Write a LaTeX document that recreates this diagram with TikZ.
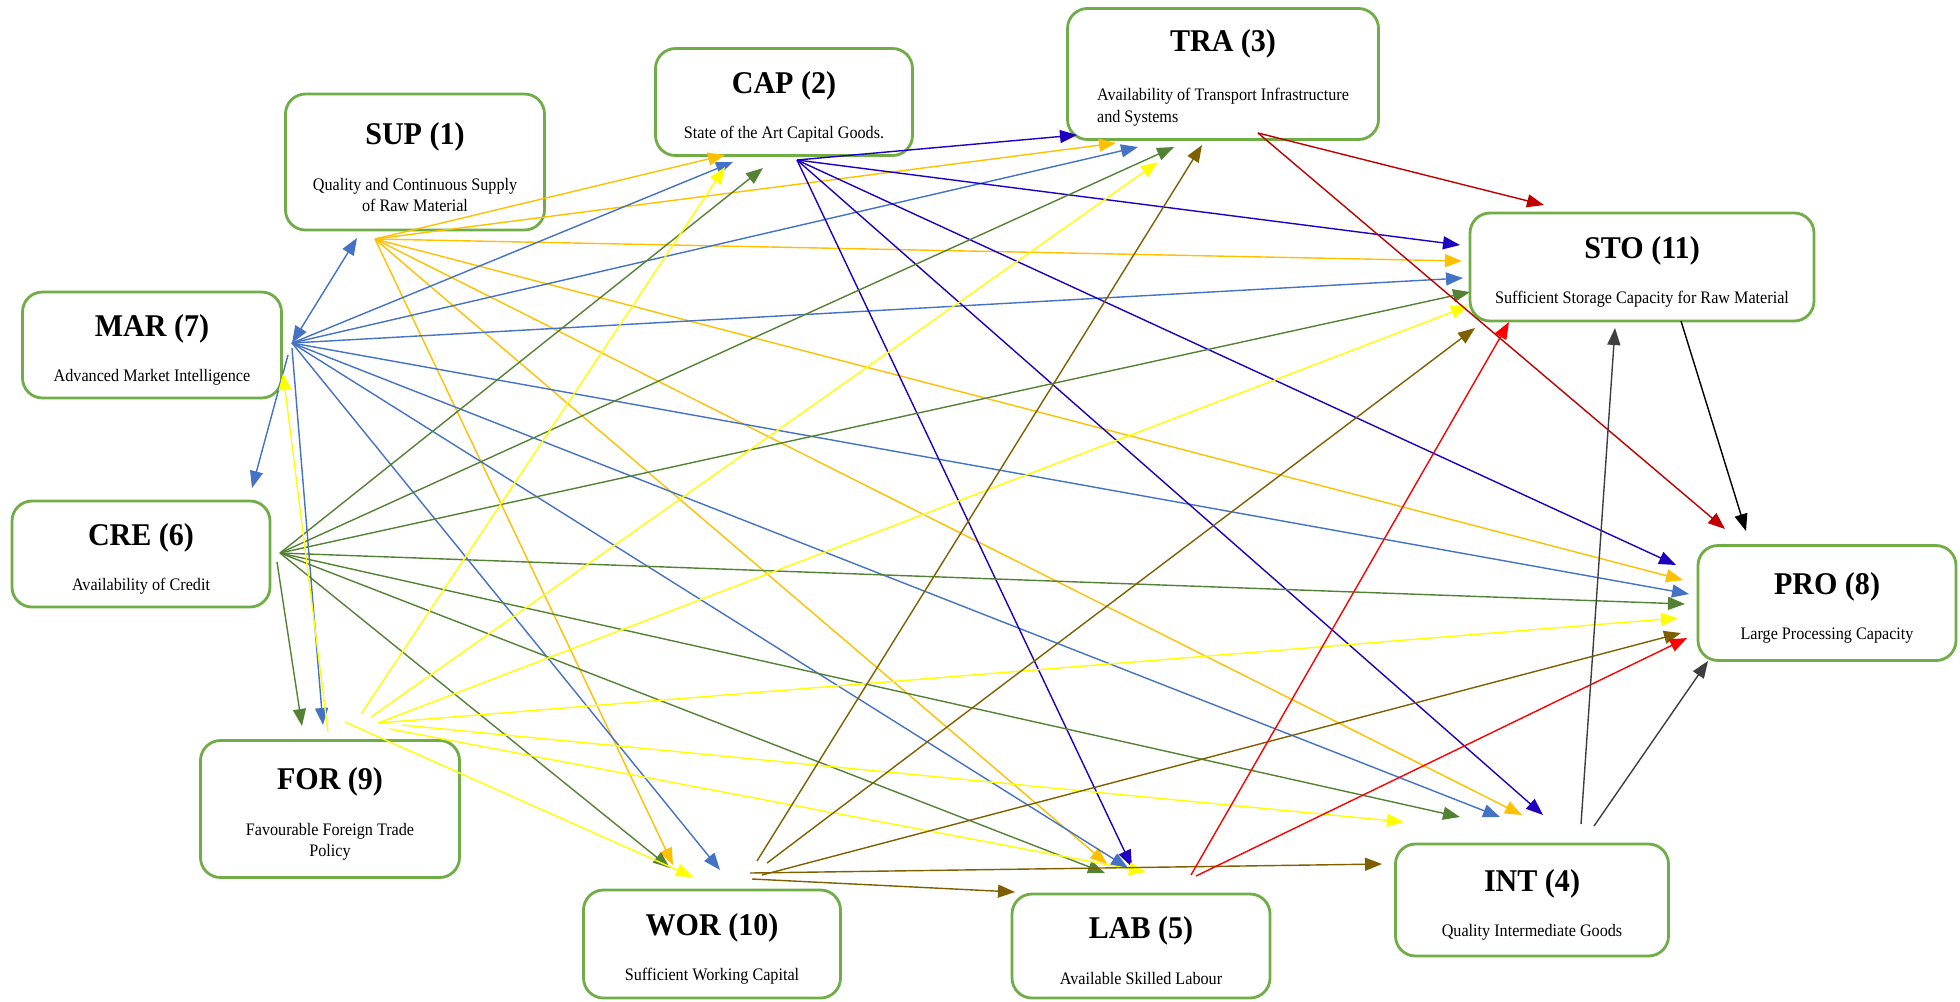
\documentclass[tikz,border=0pt]{standalone}
\usepackage{fontspec}
\setmainfont{Liberation Serif}[FakeStretch=0.95]
\newfontfamily\descfont{Liberation Serif}[FakeStretch=0.92]
\usepackage{xcolor}
\usepackage{tikz}
\usetikzlibrary{arrows.meta}

\definecolor{boxgreen}{HTML}{70AD47}
\definecolor{supcol}{HTML}{FFC000}
\definecolor{marcol}{HTML}{4472C4}
\definecolor{capcol}{HTML}{2000C0}
\definecolor{crecol}{HTML}{548235}
\definecolor{forcol}{HTML}{FFFF00}
\definecolor{worcol}{HTML}{7F6000}
\definecolor{tracol}{HTML}{C00000}
\definecolor{labcol}{HTML}{FF0000}
\definecolor{intcol}{HTML}{3F3F3F}

\newcommand{\factortitle}[1]{{\rmfamily\fontsize{9}{10}\selectfont\bfseries\rule{0pt}{9pt}#1}}

\begin{document}
\begin{tikzpicture}[
        factor/.style={rectangle, draw=boxgreen, line width=0.8pt, rounded corners=2mm, fill=white, align=center, inner sep=0pt, font=\descfont\fontsize{5}{6}\selectfont},
        arrow/.style={->, >={Triangle[length=1.7mm, width=1.3mm]}, line width=0.4pt}
    ]
    \useasboundingbox (0,0) rectangle (19.6,-10.01);

    % Factors
    \node[factor, minimum width=2.59cm, minimum height=1.36cm] (sup) at (4.15,-1.62) {\factortitle{SUP (1)}\\[7pt]Quality and Continuous Supply\\of Raw Material};
    \node[factor, minimum width=2.57cm, minimum height=1.07cm] (cap) at (7.84,-1.02) {\factortitle{CAP (2)}\\[7pt]State of the Art Capital Goods.};
    \node[factor, minimum width=3.11cm, minimum height=1.31cm] (tra) at (12.23,-0.74) {\factortitle{TRA (3)}\\[7pt]\begin{tabular}[t]{@{}l@{}}Availability of Transport Infrastructure\\and Systems\end{tabular}};
    \node[factor, minimum width=3.44cm, minimum height=1.08cm] (sto) at (16.42,-2.67) {\factortitle{STO (11)}\\[7pt]Sufficient Storage Capacity for Raw Material};
    \node[factor, minimum width=2.59cm, minimum height=1.06cm] (mar) at (1.52,-3.45) {\factortitle{MAR (7)}\\[7pt]Advanced Market Intelligence};
    \node[factor, minimum width=2.58cm, minimum height=1.06cm] (cre) at (1.41,-5.54) {\factortitle{CRE (6)}\\[7pt]Availability of Credit};
    \node[factor, minimum width=2.58cm, minimum height=1.15cm] (pro) at (18.27,-6.03) {\factortitle{PRO (8)}\\[7pt]Large Processing Capacity};
    \node[factor, minimum width=2.59cm, minimum height=1.37cm] (for) at (3.30,-8.09) {\factortitle{FOR (9)}\\[7pt]Favourable Foreign Trade\\Policy};
    \node[factor, minimum width=2.57cm, minimum height=1.08cm] (wor) at (7.12,-9.44) {\factortitle{WOR (10)}\\[7pt]Sufficient Working Capital};
    \node[factor, minimum width=2.58cm, minimum height=1.04cm] (lab) at (11.41,-9.46) {\factortitle{LAB (5)}\\[7pt]Available Skilled Labour};
    \node[factor, minimum width=2.73cm, minimum height=1.12cm] (int) at (15.32,-9.00) {\factortitle{INT (4)}\\[7pt]Quality Intermediate Goods};

    % Start points
    \coordinate (sup-out) at (3.75,-2.39);
    \coordinate (mar-out) at (2.92,-3.43);
    \coordinate (mar-out-a) at (2.88,-3.55);
    \coordinate (mar-out-b) at (2.92,-3.48);
    \coordinate (cap-out) at (7.97,-1.60);
    \coordinate (tra-out) at (12.58,-1.33);
    \coordinate (cre-out) at (2.80,-5.53);
    \coordinate (cre-out-b) at (2.77,-5.62);
    \coordinate (lab-out-a) at (11.91,-8.75);
    \coordinate (lab-out-b) at (11.96,-8.76);
    \coordinate (int-out-a) at (15.81,-8.24);
    \coordinate (int-out-b) at (15.94,-8.26);
    \coordinate (sto-out) at (16.81,-3.21);
    \coordinate (for-out-mar) at (3.28,-7.32);
    \coordinate (for-out-cap) at (3.61,-7.14);
    \coordinate (for-out-tra) at (3.71,-7.17);
    \coordinate (for-out-sto) at (3.78,-7.23);
    \coordinate (for-out-int) at (4.02,-7.25);
    \coordinate (for-out-lab) at (3.90,-7.29);
    \coordinate (for-out-wor) at (3.45,-7.22);
    \coordinate (wor-out-tra) at (7.57,-8.61);
    \coordinate (wor-out-sto) at (7.67,-8.63);
    \coordinate (wor-out-pro) at (7.62,-8.75);
    \coordinate (wor-out-int) at (7.50,-8.73);
    \coordinate (wor-out-lab) at (7.52,-8.79);

    % Arrow tips
    \coordinate (sup-mar) at (3.57,-2.38);
    \coordinate (cap-sup) at (7.25,-1.55);
    \coordinate (cap-mar) at (7.33,-1.62);
    \coordinate (cap-for) at (7.25,-1.67);
    \coordinate (cap-cre) at (7.63,-1.68);
    \coordinate (tra-cap) at (10.77,-1.35);
    \coordinate (tra-sup) at (11.16,-1.43);
    \coordinate (tra-mar) at (11.38,-1.47);
    \coordinate (tra-cre) at (11.74,-1.47);
    \coordinate (tra-for) at (11.58,-1.62);
    \coordinate (tra-wor) at (12.02,-1.45);
    \coordinate (sto-cap) at (14.60,-2.45);
    \coordinate (sto-sup) at (14.62,-2.61);
    \coordinate (sto-mar) at (14.63,-2.78);
    \coordinate (sto-cre) at (14.70,-2.92);
    \coordinate (sto-for) at (14.68,-3.06);
    \coordinate (sto-wor) at (14.75,-3.28);
    \coordinate (sto-lab) at (15.09,-3.22);
    \coordinate (sto-tra) at (15.44,-2.05);
    \coordinate (sto-int) at (16.15,-3.28);
    \coordinate (pro-cap) at (16.76,-5.65);
    \coordinate (pro-sup) at (16.83,-5.80);
    \coordinate (pro-mar) at (16.89,-5.94);
    \coordinate (pro-cre) at (16.85,-6.04);
    \coordinate (pro-for) at (16.78,-6.18);
    \coordinate (pro-wor) at (16.81,-6.33);
    \coordinate (pro-lab) at (16.87,-6.38);
    \coordinate (pro-tra) at (17.25,-5.29);
    \coordinate (pro-sto) at (17.46,-5.31);
    \coordinate (pro-int) at (17.08,-6.61);
    \coordinate (mar-for) at (2.83,-3.73);
    \coordinate (cre-mar) at (2.52,-4.88);
    \coordinate (for-cre) at (3.02,-7.26);
    \coordinate (for-mar) at (3.23,-7.25);
    \coordinate (wor-sup) at (6.73,-8.65);
    \coordinate (wor-cre) at (6.70,-8.68);
    \coordinate (wor-for) at (6.93,-8.77);
    \coordinate (wor-mar) at (7.20,-8.70);
    \coordinate (lab-sup) at (11.07,-8.64);
    \coordinate (lab-cre) at (11.05,-8.73);
    \coordinate (lab-cap) at (11.32,-8.67);
    \coordinate (lab-mar) at (11.28,-8.68);
    \coordinate (lab-for) at (11.46,-8.72);
    \coordinate (lab-wor) at (10.15,-8.92);
    \coordinate (int-for) at (14.04,-8.22);
    \coordinate (int-cre) at (14.60,-8.17);
    \coordinate (int-mar) at (15.00,-8.17);
    \coordinate (int-sup) at (15.22,-8.15);
    \coordinate (int-cap) at (15.43,-8.15);
    \coordinate (int-wor) at (13.82,-8.64);

    % Arrows from SUP (1)
    \draw[arrow, supcol] (sup-out) -- (cap-sup);
    \draw[arrow, supcol] (sup-out) -- (tra-sup);
    \draw[arrow, supcol] (sup-out) -- (sto-sup);
    \draw[arrow, supcol] (sup-out) -- (pro-sup);
    \draw[arrow, supcol] (sup-out) -- (int-sup);
    \draw[arrow, supcol] (sup-out) -- (lab-sup);
    \draw[arrow, supcol] (sup-out) -- (wor-sup);

    % Arrows from MAR (7)
    \draw[arrow, <->, marcol] (mar-out) -- (sup-mar);
    \draw[arrow, marcol] (mar-out) -- (cap-mar);
    \draw[arrow, marcol] (mar-out) -- (tra-mar);
    \draw[arrow, marcol] (mar-out) -- (sto-mar);
    \draw[arrow, marcol] (mar-out) -- (pro-mar);
    \draw[arrow, marcol] (mar-out) -- (int-mar);
    \draw[arrow, marcol] (mar-out) -- (lab-mar);
    \draw[arrow, marcol] (mar-out) -- (wor-mar);
    \draw[arrow, marcol] (mar-out-a) -- (cre-mar);
    \draw[arrow, marcol] (mar-out-b) -- (for-mar);

    % Arrows from CAP (2)
    \draw[arrow, capcol] (cap-out) -- (tra-cap);
    \draw[arrow, capcol] (cap-out) -- (sto-cap);
    \draw[arrow, capcol] (cap-out) -- (pro-cap);
    \draw[arrow, capcol] (cap-out) -- (int-cap);
    \draw[arrow, capcol] (cap-out) -- (lab-cap);

    % Arrows from CRE (6)
    \draw[arrow, crecol] (cre-out) -- (cap-cre);
    \draw[arrow, crecol] (cre-out) -- (tra-cre);
    \draw[arrow, crecol] (cre-out) -- (sto-cre);
    \draw[arrow, crecol] (cre-out) -- (pro-cre);
    \draw[arrow, crecol] (cre-out) -- (int-cre);
    \draw[arrow, crecol] (cre-out) -- (lab-cre);
    \draw[arrow, crecol] (cre-out) -- (wor-cre);
    \draw[arrow, crecol] (cre-out-b) -- (for-cre);

    % Arrows from FOR (9)
    \draw[arrow, forcol] (for-out-mar) -- (mar-for);
    \draw[arrow, forcol] (for-out-cap) -- (cap-for);
    \draw[arrow, forcol] (for-out-tra) -- (tra-for);
    \draw[arrow, forcol] (for-out-sto) -- (sto-for);
    \draw[arrow, forcol] (for-out-sto) -- (pro-for);
    \draw[arrow, forcol] (for-out-int) -- (int-for);
    \draw[arrow, forcol] (for-out-lab) -- (lab-for);
    \draw[arrow, forcol] (for-out-wor) -- (wor-for);

    % Arrows from WOR (10)
    \draw[arrow, worcol] (wor-out-tra) -- (tra-wor);
    \draw[arrow, worcol] (wor-out-sto) -- (sto-wor);
    \draw[arrow, worcol] (wor-out-pro) -- (pro-wor);
    \draw[arrow, worcol] (wor-out-int) -- (int-wor);
    \draw[arrow, worcol] (wor-out-lab) -- (lab-wor);

    % Arrows from TRA (3), LAB (5), INT (4) and STO (11)
    \draw[arrow, tracol] (tra-out) -- (sto-tra);
    \draw[arrow, tracol] (tra-out) -- (pro-tra);
    \draw[arrow, labcol] (lab-out-a) -- (sto-lab);
    \draw[arrow, labcol] (lab-out-b) -- (pro-lab);
    \draw[arrow, intcol] (int-out-a) -- (sto-int);
    \draw[arrow, intcol] (int-out-b) -- (pro-int);
    \draw[arrow, black] (sto-out) -- (pro-sto);

\end{tikzpicture}
\end{document}
